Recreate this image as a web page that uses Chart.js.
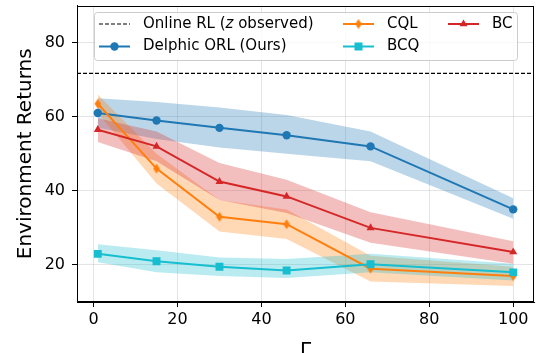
<!DOCTYPE html>
<html>
<head>
<meta charset="utf-8">
<script src="https://cdn.jsdelivr.net/npm/chart.js@4/dist/chart.umd.min.js"></script>
<style>
html, body { margin: 0; padding: 0; background: #ffffff; }
#wrap { width: 545px; height: 353px; }
</style>
</head>
<body>
<div id="wrap"><canvas id="returnsChart" width="545" height="353"></canvas></div>
<script>
//------------------------------------------------------
// DATA
//------------------------------------------------------

const gammaValues = [1, 15, 30, 46, 66, 100];

const delphicMean  = [61, 59, 57, 55, 52, 35];
const delphicUpper = [65, 64, 62.5, 60.5, 56, 38];
const delphicLower = [57, 54, 51.7, 50, 48, 32.5];

const cqlMean  = [63.5, 46, 33, 31, 19, 17];
const cqlUpper = [66, 50, 37.5, 35, 22.5, 19.5];
const cqlLower = [61, 42, 29, 27, 15.5, 14.3];

const bcqMean  = [23, 21, 19.5, 18.5, 20.2, 18];
const bcqUpper = [25.6, 24, 22, 21.6, 23, 20.3];
const bcqLower = [20.7, 18, 17, 16.5, 18, 15.8];

const bcMean  = [56.5, 52, 42.5, 38.5, 30, 23.5];
const bcUpper = [59.6, 56, 47.5, 43, 34.2, 26.4];
const bcLower = [53.2, 48, 37.5, 34, 26, 20.3];

const onlineRL = 71.7;

const xTicks = [0, 20, 40, 60, 80, 100];
const yTicks = [20, 40, 60, 80];

const xRange = [-3.95, 104.95];
const yRange = [10, 90];

//------------------------------------------------------
// COLOURS
//------------------------------------------------------

const BLUE = "#1f77b4";
const ORANGE = "#ff7f0e";
const CYAN = "#17becf";
const RED = "#d62728";

function withAlpha(hex, a){
    const r = parseInt(hex.slice(1,3),16);
    const g = parseInt(hex.slice(3,5),16);
    const b = parseInt(hex.slice(5,7),16);
    return "rgba(" + r + "," + g + "," + b + "," + a + ")";
}

function toPoints(values){
    return values.map(function(v, i){ return {x: gammaValues[i], y: v}; });
}

// matplotlib style thin diamond marker
function makeThinDiamond(color){
    const c = document.createElement("canvas");
    c.width = 8;
    c.height = 11;
    const g = c.getContext("2d");
    g.fillStyle = color;
    g.beginPath();
    g.moveTo(4, 0.5);
    g.lineTo(7.3, 5.5);
    g.lineTo(4, 10.5);
    g.lineTo(0.7, 5.5);
    g.closePath();
    g.fill();
    return c;
}

const thinDiamond = makeThinDiamond(ORANGE);

//------------------------------------------------------
// DATASETS
//------------------------------------------------------

function band(upper, lower, color, order){
    return [
        {
            data: toPoints(upper),
            borderWidth: 0,
            borderColor: "rgba(0,0,0,0)",
            pointRadius: 0,
            backgroundColor: withAlpha(color, 0.3),
            fill: "+1",
            order: order
        },
        {
            data: toPoints(lower),
            borderWidth: 0,
            borderColor: "rgba(0,0,0,0)",
            pointRadius: 0,
            fill: false,
            order: order
        }
    ];
}

function line(values, color, style, radius, order){
    return {
        data: toPoints(values),
        borderColor: color,
        backgroundColor: color,
        borderWidth: 2,
        pointStyle: style,
        pointRadius: radius,
        pointBorderWidth: 0,
        fill: false,
        order: order
    };
}

const datasets = [].concat(
    band(delphicUpper, delphicLower, BLUE, 24),
    band(cqlUpper, cqlLower, ORANGE, 23),
    band(bcqUpper, bcqLower, CYAN, 22),
    band(bcUpper, bcLower, RED, 21),
    [
        {
            data: [{x: xRange[0], y: onlineRL}, {x: xRange[1], y: onlineRL}],
            borderColor: "#000000",
            borderWidth: 1.2,
            borderDash: [4, 2],
            pointRadius: 0,
            fill: false,
            order: 14
        },
        line(delphicMean, BLUE, "circle", 4.2, 13),
        line(cqlMean, ORANGE, thinDiamond, 5, 12),
        line(bcqMean, CYAN, "rect", 5.6, 11),
        line(bcMean, RED, "triangle", 4.6, 10)
    ]
);

//------------------------------------------------------
// LEGEND (inside the axes, 3 columns)
//------------------------------------------------------

const legendEntries = [
    {label: "Online RL (z observed)", color: "#000000", marker: null, dashed: true},
    {label: "Delphic ORL (Ours)", color: BLUE, marker: "circle"},
    {label: "CQL", color: ORANGE, marker: "diamond"},
    {label: "BCQ", color: CYAN, marker: "square"},
    {label: "BC", color: RED, marker: "triangle"}
];

function drawMarker(ctx, kind, x, y, color){
    ctx.fillStyle = color;
    ctx.beginPath();
    if(kind === "circle"){
        ctx.arc(x, y, 4.2, 0, Math.PI * 2);
        ctx.fill();
    }
    else if(kind === "square"){
        ctx.fillRect(x - 4, y - 4, 8, 8);
    }
    else if(kind === "triangle"){
        ctx.moveTo(x, y - 4.6);
        ctx.lineTo(x + 4, y + 2.3);
        ctx.lineTo(x - 4, y + 2.3);
        ctx.closePath();
        ctx.fill();
    }
    else if(kind === "diamond"){
        ctx.drawImage(thinDiamond, x - 4, y - 5.5);
    }
}

const innerLegend = {
    id: "innerLegend",
    afterDraw(chart){
        const ctx = chart.ctx;
        const colX = [99, 343, 448];
        const rowY = [24, 46.5];
        const font = "15px 'DejaVu Sans'";

        ctx.save();

        ctx.beginPath();
        ctx.roundRect(94.5, 12.5, 423, 48, 3);
        ctx.fillStyle = "rgba(255,255,255,0.8)";
        ctx.fill();
        ctx.strokeStyle = "#cccccc";
        ctx.lineWidth = 1;
        ctx.stroke();

        legendEntries.forEach(function(entry, i){
            const col = Math.floor(i / 2);
            const row = i % 2;
            const x0 = colX[col];
            const y = rowY[row];

            ctx.beginPath();
            ctx.strokeStyle = entry.color;
            ctx.lineWidth = entry.dashed ? 1.2 : 2;
            ctx.setLineDash(entry.dashed ? [4, 2] : []);
            ctx.moveTo(x0, y);
            ctx.lineTo(x0 + 31, y);
            ctx.stroke();
            ctx.setLineDash([]);

            if(entry.marker){
                drawMarker(ctx, entry.marker, x0 + 15.5, y, entry.color);
            }

            ctx.fillStyle = "#000000";
            ctx.textBaseline = "middle";
            ctx.textAlign = "left";
            let tx = x0 + 44;

            if(entry.dashed){
                // italic z inside the label
                const parts = ["Online RL (", "z", " observed)"];
                parts.forEach(function(p, k){
                    ctx.font = k === 1 ? "italic " + font : font;
                    ctx.fillText(p, tx, y);
                    tx += ctx.measureText(p).width;
                });
            }
            else{
                ctx.font = font;
                ctx.fillText(entry.label, tx, y);
            }
        });

        ctx.restore();
    }
};

// frame round the axes
const axesFrame = {
    id: "axesFrame",
    afterDatasetsDraw(chart){
        const a = chart.chartArea;
        const ctx = chart.ctx;
        ctx.save();
        ctx.strokeStyle = "#000000";
        ctx.lineWidth = 1;
        ctx.strokeRect(Math.round(a.left) + 0.5, Math.round(a.top) + 0.5,
            Math.round(a.right - a.left) - 1, Math.round(a.bottom - a.top) - 1);
        ctx.restore();
    }
};

//------------------------------------------------------
// CHART
//------------------------------------------------------

const tickFont = {family: "DejaVu Sans", size: 16};
const titleFont = {family: "DejaVu Sans", size: 20};
const gridColor = "rgba(0,0,0,0.1)";

new Chart(document.getElementById("returnsChart"), {

    type: "line",

    data: {datasets: datasets},

    options: {

        responsive: false,
        animation: false,
        events: [],

        layout: {
            padding: {top: 4, right: 11, left: 0, bottom: 0}
        },

        plugins: {
            legend: {display: false},
            tooltip: {enabled: false},
            filler: {drawTime: "beforeDatasetsDraw"}
        },

        scales: {

            x: {
                type: "linear",
                min: xRange[0],
                max: xRange[1],
                afterBuildTicks: function(axis){
                    axis.ticks = xTicks.map(function(v){ return {value: v}; });
                },
                afterFit: function(axis){
                    axis.height = 51;
                    axis.paddingLeft = 0;
                    axis.paddingRight = 0;
                },
                grid: {color: gridColor, tickColor: "#000000", tickLength: 5},
                border: {color: "#000000", width: 1},
                ticks: {font: tickFont, color: "#000000", padding: 3, maxRotation: 0, autoSkip: false},
                title: {display: true, text: "Γ", font: titleFont, color: "#000000",
                    padding: {top: 0, bottom: -10}}
            },

            y: {
                type: "linear",
                min: yRange[0],
                max: yRange[1],
                afterBuildTicks: function(axis){
                    axis.ticks = yTicks.map(function(v){ return {value: v}; });
                },
                afterFit: function(axis){
                    axis.width = 77;
                    axis.paddingTop = 0;
                    axis.paddingBottom = 0;
                },
                grid: {color: gridColor, tickColor: "#000000", tickLength: 5},
                border: {color: "#000000", width: 1},
                ticks: {font: tickFont, color: "#000000", padding: 7, autoSkip: false},
                title: {display: true, text: "Environment Returns", font: titleFont, color: "#000000",
                    padding: {top: 14, bottom: 0}}
            }

        }

    },

    plugins: [innerLegend, axesFrame]

});
</script>
</body>
</html>
